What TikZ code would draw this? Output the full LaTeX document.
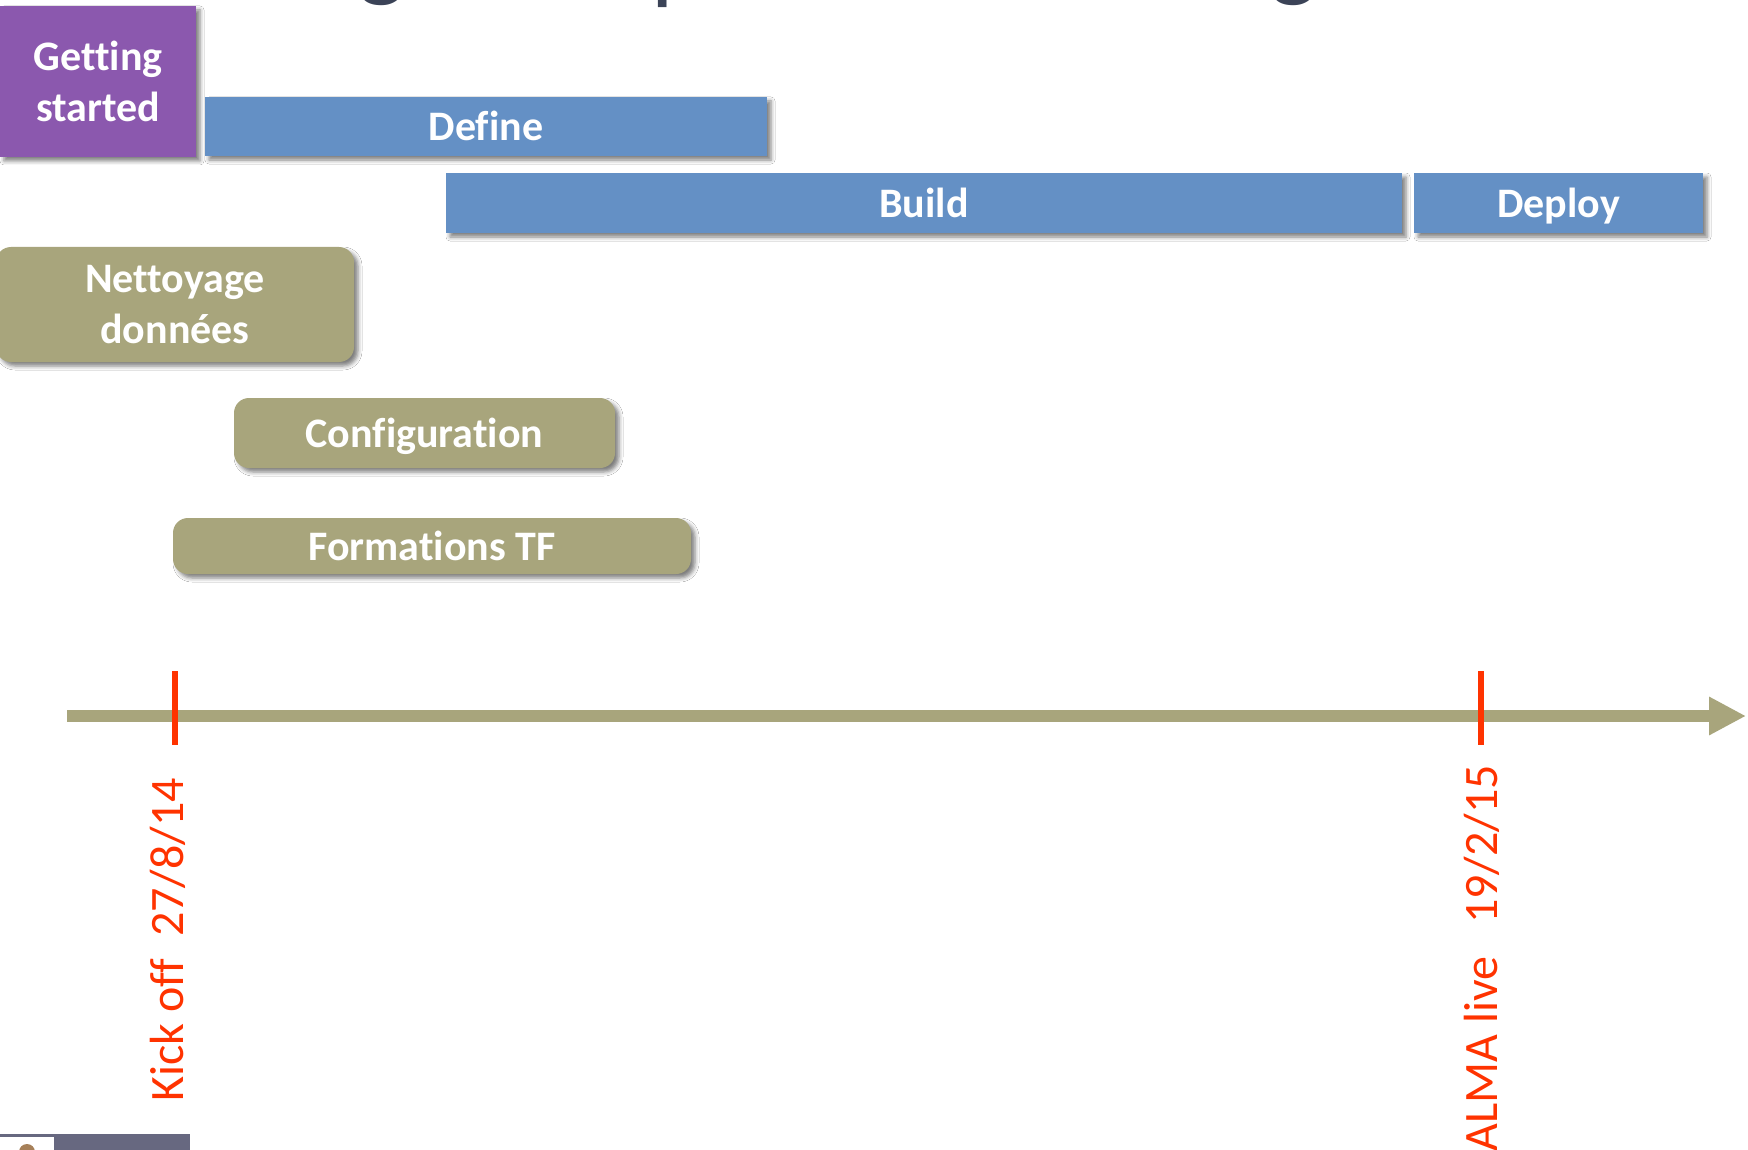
\documentclass[tikz,border=0pt]{standalone}
\usepackage{fontspec}
\setmainfont{Carlito}[Ligatures=NoCommon]
\usetikzlibrary{arrows.meta,shadows.blur}
\definecolor{purplebox}{HTML}{8B58AE}
\definecolor{bluebox}{HTML}{6490C5}
\definecolor{olivebox}{HTML}{A8A57C}
\definecolor{redline}{HTML}{FF3300}
\definecolor{titlecol}{HTML}{3B4357}
\definecolor{footcol}{HTML}{676880}
\pgfdeclareradialshading{bgshade}{\pgfpoint{0bp}{0bp}}{color(0bp)=(white); color(31bp)=(white); color(50bp)=(gray!27); color(60bp)=(gray!30)}
\begin{document}
\begin{tikzpicture}[x=1pt,y=-1pt,
  boxtext/.style={text=white,font=\fontsize{42}{51}\selectfont\bfseries,align=center,inner sep=0pt},
  bar/.style={boxtext,rectangle,blur shadow={shadow xshift=4pt,shadow yshift=-4pt,shadow opacity=50,shadow blur radius=4pt}},
  oneline/.style={text height=29pt,text depth=0pt},
  roundbar/.style={bar,rounded corners=15pt},
  tick/.style={draw=redline,line width=5.5pt},
  datelabel/.style={text=redline,font=\fontsize{48}{56}\selectfont,rotate=90,inner sep=0pt},
  titleglyph/.style={text=titlecol,font=\fontsize{100}{110}\selectfont,anchor=base west,inner sep=0pt},
  axisline/.style={draw=olivebox,line width=12pt,-{Triangle[length=37pt,width=36pt]}}]
\useasboundingbox (0,0) rectangle (1748,1150);
\begin{scope}
\clip (0,0) rectangle (1748,1150);
\fill[white] (0,0) rectangle (1748,1150);
\shade[shading=bgshade] (-100,-950) rectangle (2100,1850);
% cropped title glyphs
\node[titleglyph] (tg1) at (358,-11) {g};
\node[titleglyph] (tp1) at (651,-8) {p};
\node[titleglyph] (tg2) at (1270,-11) {g};
% footer
\fill[footcol] (0,1134) rectangle (190,1150);
\fill[white] (0,1137) rectangle (54,1150);
\fill[brown!60!gray] (27,1152) circle (8);
\end{scope}
% phase bars
\node[bar,fill=purplebox,minimum width=196pt,minimum height=151pt] (gs) at (98,81.5) {Getting\\started};
\node[bar,oneline,fill=bluebox,minimum width=562pt,minimum height=59pt] (define) at (486,126.5) {Define};
\node[bar,oneline,fill=bluebox,minimum width=956pt,minimum height=60pt] (build) at (924,203) {Build};
\node[bar,oneline,fill=bluebox,minimum width=289pt,minimum height=60pt] (deploy) at (1558.5,203) {Deploy};
\node[roundbar,fill=olivebox,minimum width=358pt,minimum height=115pt] (nett) at (175,304.5) {Nettoyage\\données};
\node[roundbar,oneline,fill=olivebox,minimum width=381pt,minimum height=70pt] (conf) at (424.5,433) {Configuration};
\node[roundbar,oneline,fill=olivebox,minimum width=518pt,minimum height=56pt] (form) at (432,546) {Formations TF};
% time axis
\coordinate (axstart) at (67,716);
\coordinate (axend) at (1746,716);
\draw[axisline] (axstart) -- (axend);
% milestones
\coordinate (k1) at (175,671);
\coordinate (k2) at (175,745);
\coordinate (a1) at (1481,671);
\coordinate (a2) at (1481,745);
\draw[tick] (k1) -- (k2);
\draw[tick] (a1) -- (a2);
\fill[white] (126,860) rectangle (204,1110);
\node[datelabel,anchor=base east] (kick) at (183,778) {Kick off~~27/8/14};
\node[datelabel,anchor=base east] (alma) at (1497,765) {ALMA live~~~19/2/15};
\end{tikzpicture}
\end{document}
